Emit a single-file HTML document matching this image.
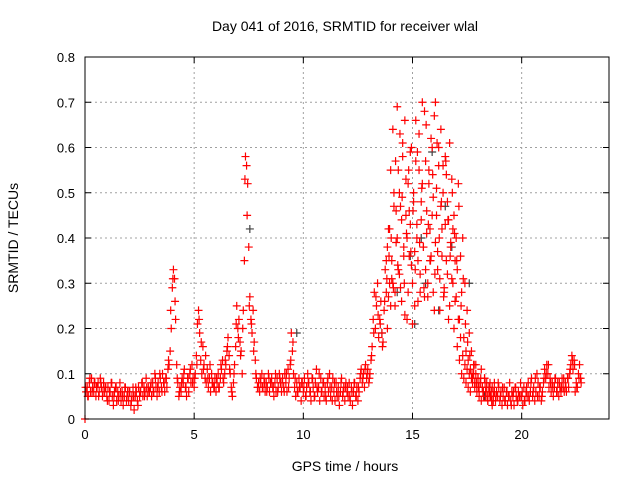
<!DOCTYPE html>
<html><head><meta charset="utf-8"><style>
html,body{margin:0;padding:0;background:#fff;}
svg{display:block;font-family:"Liberation Sans",sans-serif;}
</style></head><body>
<svg id="chart" width="640" height="480" viewBox="0 0 640 480">
<text x="345" y="31" text-anchor="middle" font-size="14">Day 041 of 2016, SRMTID for receiver wlal</text>
<text transform="translate(18,238) rotate(-90)" text-anchor="middle" font-size="14">SRMTID / TECUs</text>
<text x="345" y="471" text-anchor="middle" font-size="14">GPS time / hours</text>
<g id="grid"></g>
<g id="ticks"></g>
<g id="marks"></g>
<rect x="85" y="57" width="524" height="362" fill="none" stroke="#000" stroke-width="1"/>
</svg>
<script>
const xTicks=[0,5,10,15,20];
const yTicks=[0,0.1,0.2,0.3,0.4,0.5,0.6,0.7,0.8];
const yTickLabels=["0","0.1","0.2","0.3","0.4","0.5","0.6","0.7","0.8"];
const mainStart=0, mainStep=0.05;
const mainValues=[
.00,.06,.07,.05,.08,.06,.09,.07,.06,.08,.05,.07,.08,.06,.09,.07,.05,.08,.06,.07,
.05,.07,.04,.06,.08,.05,.03,.06,.07,.04,.06,.05,.08,.04,.06,.03,.05,.07,.04,.06,
.04,.06,.03,.05,.07,.02,.05,.06,.04,.07,.05,.06,.08,.05,.07,.06,.09,.05,.07,.06,
.07,.05,.08,.06,.10,.07,.05,.08,.06,.09,.07,.10,.08,.06,.09,.07,.11,.12,.15,.20,
.29,.33,.31,.22,.12,.08,.05,.07,.06,.09,.08,.11,.07,.05,.09,.06,.10,.08,.12,.09,
.07,.10,.14,.21,.24,.19,.13,.10,.16,.12,.09,.08,.11,.07,.09,.06,.10,.08,.07,.09,
.06,.08,.10,.07,.09,.11,.13,.08,.10,.12,.15,.18,.14,.10,.07,.05,.08,.12,.16,.25,
.20,.22,.17,.15,.10,.24,.35,.58,.56,.52,.38,.27,.22,.19,.24,.17,.13,.09,.07,.08,
.06,.08,.10,.07,.09,.06,.08,.07,.10,.06,.08,.09,.07,.05,.08,.06,.09,.07,.10,.08,
.06,.09,.07,.10,.08,.06,.11,.09,.12,.19,.15,.10,.07,.05,.08,.06,.09,.07,.04,.08,
.06,.09,.05,.07,.10,.08,.06,.04,.09,.07,.05,.08,.11,.06,.07,.04,.09,.06,.08,.05,
.07,.04,.08,.06,.10,.05,.07,.09,.06,.04,.08,.05,.07,.03,.06,.09,.05,.07,.04,.08,
.06,.05,.08,.04,.07,.03,.06,.08,.05,.07,.04,.06,.09,.11,.08,.10,.07,.12,.09,.11,
.08,.10,.13,.16,.22,.28,.20,.25,.30,.18,.22,.26,.19,.17,.24,.33,.28,.38,.42,.30,
.25,.35,.30,.50,.28,.46,.40,.55,.32,.47,.26,.58,.38,.66,.45,.22,.52,.36,.43,.60,
.30,.48,.25,.57,.40,.35,.63,.28,.44,.52,.38,.68,.33,.46,.27,.55,.42,.36,.60,.49,
.24,.70,.45,.37,.56,.31,.64,.42,.50,.28,.58,.35,.48,.22,.61,.39,.53,.30,.45,.26,
.40,.33,.52,.22,.36,.28,.40,.18,.30,.15,.24,.13,.19,.11,.15,.09,.12,.08,.10,.07,
.09,.06,.08,.11,.07,.05,.09,.06,.08,.04,.07,.05,.06,.03,.05,.08,.04,.06,.05,.07,
.04,.06,.03,.05,.07,.04,.06,.03,.05,.08,.04,.06,.05,.03,.07,.05,.04,.06,.05,.08,
.05,.03,.07,.04,.06,.05,.08,.04,.06,.09,.05,.07,.04,.06,.10,.08,.05,.07,.04,.06,
.08,.11,.09,.12,.10,.07,.09,.06,.08,.05,.07,.09,.06,.08,.05,.07,.06,.09,.07,.06,
.08,.06,.09,.07,.10,.12,.14,.11,.13,.06,.08,.07,.10,.12,.09];
const fillStart=0.025, fillStep=0.1;
const fillValues=[
.07,.05,.09,.06,.08,.07,.05,.08,.06,.07,
.04,.06,.08,.05,.07,.04,.06,.05,.07,.05,
.06,.04,.05,.07,.03,.06,.08,.05,.07,.06,
.08,.06,.09,.07,.10,.06,.08,.09,.13,.24,
.31,.26,.09,.06,.08,.10,.07,.09,.11,.08,
.09,.12,.22,.17,.11,.14,.09,.12,.08,.07,
.09,.07,.12,.09,.13,.16,.11,.06,.10,.21,
.18,.14,.20,.53,.45,.25,.21,.15,.10,.07,
.09,.07,.08,.06,.09,.08,.07,.10,.06,.09,
.08,.06,.10,.07,.13,.17,.09,.06,.07,.08,
.07,.05,.08,.06,.09,.05,.07,.10,.06,.08,
.05,.09,.07,.04,.08,.06,.05,.08,.06,.07,
.07,.05,.06,.08,.05,.07,.10,.09,.11,.10,
.09,.14,.19,.27,.23,.21,.16,.26,.31,.36,
.40,.29,.57,.34,.63,.49,.30,.41,.55,.37,
.46,.33,.59,.39,.51,.29,.65,.43,.35,.54,
.32,.61,.40,.48,.27,.57,.44,.36,.50,.41,
.35,.47,.25,.31,.21,.17,.14,.10,.12,.08,
.07,.09,.06,.08,.05,.07,.04,.06,.05,.08,
.05,.07,.04,.06,.05,.03,.06,.07,.04,.05,
.06,.04,.07,.05,.08,.06,.09,.05,.07,.05,
.09,.10,.12,.08,.07,.09,.06,.08,.07,.09,
.07,.09,.11,.13,.12,.07,.09,.08];
const stormStart=13.8, stormStep=0.05;
const stormValues=[
.35,.20,.27,.42,.55,.31,.64,.47,.25,.39,.69,.33,.50,.29,.44,.61,.36,.23,.53,.40,
.28,.46,.59,.34,.21,.50,.37,.66,.43,.26,.55,.32,.48,.70,.38,.27,.57,.41,.30,.52,
.35,.62,.45,.28,.67,.39,.51,.33,.60,.24,.47,.36,.56,.29,.43,.54,.32,.44,.25,.38,
.31,.42,.20,.35,.27,.16,.22,.13,.18,.10,.14,.09,.12,.08,.11,.07,.10,.06,.09,.08,
.10,.07,.12,.06,.09,.05,.08,.04,.07,.06,.09,.05,.07,.04,.06,.08,.05,.07,.04,.06];
const grayTimes=[7.55,9.7,13.6,14.3,14.9,15.1,15.4,15.6,15.9,16.2,16.5,16.8,17.6,18.3];
const grayValues=[0.42,0.19,0.19,0.28,0.36,0.21,0.40,0.30,0.59,0.24,0.47,0.38,0.30,0.05];

const X0=85,X1=609,Y0=419,Y1=57;
const xs=h=>X0+h*(X1-X0)/24;
const ys=v=>Y0-v*(Y0-Y1)/0.8;
const NS="http://www.w3.org/2000/svg";
function mk(tag,attrs,parent){const e=document.createElementNS(NS,tag);for(const k in attrs)e.setAttribute(k,attrs[k]);parent.appendChild(e);return e;}
const grid=document.getElementById('grid'),ticks=document.getElementById('ticks'),marks=document.getElementById('marks');
yTicks.forEach((v,i)=>{
  const y=ys(v);
  if(i>0&&i<yTicks.length-1){const g=mk('line',{x1:X0,x2:X1,y1:y,y2:y,stroke:'#a0a0a0','stroke-dasharray':'2,3'},grid);
  
  }
  mk('line',{x1:X0,x2:X0+6,y1:y,y2:y,stroke:'#000'},ticks);
  mk('line',{x1:X1,x2:X1-6,y1:y,y2:y,stroke:'#000'},ticks);
  const t=mk('text',{x:X0-10,y:y+5,'text-anchor':'end','font-size':'13'},ticks);
  t.textContent=yTickLabels[i];
  
  
});
xTicks.forEach(h=>{
  const x=xs(h);
  if(h>0){const g=mk('line',{x1:x,x2:x,y1:Y0,y2:Y1,stroke:'#a0a0a0','stroke-dasharray':'2,3'},grid);
  
  }
  mk('line',{x1:x,x2:x,y1:Y0,y2:Y0-6,stroke:'#000'},ticks);
  mk('line',{x1:x,x2:x,y1:Y1,y2:Y1+6,stroke:'#000'},ticks);
  const t=mk('text',{x:x,y:Y0+20,'text-anchor':'middle','font-size':'13'},ticks);
  t.textContent=String(h);
  
  
});
function plus(h,v,color){
  const x=xs(h),y=ys(v);
  const p=mk('path',{d:`M${x-4},${y}H${x+4}M${x},${y-4}V${y+4}`,stroke:color,'stroke-width':'1.2',fill:'none'},marks);
  
  
}
grayTimes.forEach((h,i)=>plus(h,grayValues[i],'#404040'));
mainValues.forEach((v,i)=>plus(mainStart+i*mainStep,v,'#ff0000'));
fillValues.forEach((v,i)=>plus(fillStart+i*fillStep,v,'#ff0000'));
stormValues.forEach((v,i)=>plus(stormStart+i*stormStep,v,'#ff0000'));
</script>
</body></html>
